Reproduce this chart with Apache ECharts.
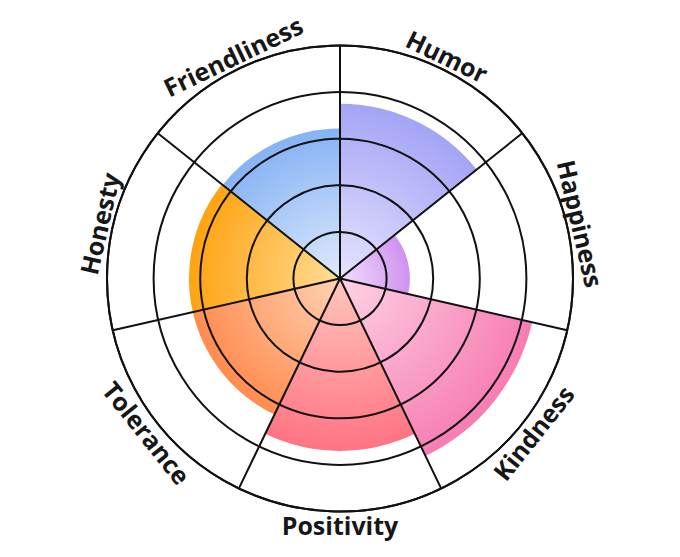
<!DOCTYPE html>
<html>
<head>
<meta charset="utf-8">
<script src="https://cdn.jsdelivr.net/npm/echarts@6/dist/echarts.min.js"></script>
<style>
html,body{margin:0;padding:0;background:#ffffff;}
#chart{width:680px;height:557px;}
</style>
</head>
<body>
<div id="chart"></div>
<script>
const categories = ['Humor', 'Happiness', 'Kindness', 'Positivity', 'Tolerance', 'Honesty', 'Friendliness'];
const values = [3.75, 1.5, 4.23, 3.7, 3.24, 3.24, 3.22];
const innerColors = ['#e6e4fd', '#f1defc', '#fdd3e4', '#ffc6bc', '#ffd2b3', '#ffdd96', '#dfeafc'];
const outerColors = ['#a4a4f6', '#cf92ef', '#f77db3', '#ff7484', '#ff8c50', '#ffa312', '#86b3f4'];

const W = 680, H = 557;
const CX = W / 2, CY = H / 2, R = 233, RMAX = 5;
const LABEL_R = 5.3;

const chart = echarts.init(document.getElementById('chart'), null, {renderer: 'svg'});

const barData = values.map((v, i) => ({
  value: v,
  itemStyle: {
    color: {
      type: 'radial', x: CX, y: CY, r: v / RMAX * R, global: true,
      colorStops: [
        {offset: 0, color: innerColors[i]},
        {offset: 1, color: outerColors[i]}
      ]
    }
  }
}));

const lineStyle = {color: '#111111', width: 2};

chart.setOption({
  animation: false,
  backgroundColor: '#ffffff',
  polar: {center: ['50%', '50%'], radius: R},
  angleAxis: {
    type: 'category',
    data: categories,
    startAngle: 90,
    clockwise: true,
    z: 10,
    axisLine: {show: true, lineStyle: lineStyle},
    axisTick: {show: false},
    axisLabel: {show: false},
    splitLine: {show: true, interval: 0, lineStyle: lineStyle}
  },
  radiusAxis: {
    type: 'value',
    min: 0, max: RMAX, interval: 1,
    z: 10,
    axisLine: {show: false},
    axisTick: {show: false},
    axisLabel: {show: false},
    splitLine: {show: true, lineStyle: lineStyle}
  },
  series: [
    {
      type: 'bar',
      coordinateSystem: 'polar',
      barCategoryGap: '0%',
      data: barData,
      z: 2
    },
    {
      type: 'custom',
      coordinateSystem: 'polar',
      silent: true,
      z: 20,
      data: categories.map((c, i) => [LABEL_R, i]),
      renderItem: function (params, api) {
        const idx = api.value(1);
        const p = api.coord([api.value(0), idx]);
        const c = api.coord([0, idx]);
        const ang = Math.atan2(c[1] - p[1], p[0] - c[0]) * 180 / Math.PI;
        const rot = (ang > 0.5 && ang < 179.5) ? ang - 90 : ang + 90;
        return {
          type: 'text',
          x: p[0], y: p[1],
          rotation: rot * Math.PI / 180,
          style: {
            text: categories[idx],
            fontSize: 25,
            fontWeight: 'bold',
            fontFamily: '"Open Sans", sans-serif',
            fill: '#171717',
            align: 'center',
            verticalAlign: 'middle'
          }
        };
      }
    }
  ]
});
</script>
</body>
</html>
